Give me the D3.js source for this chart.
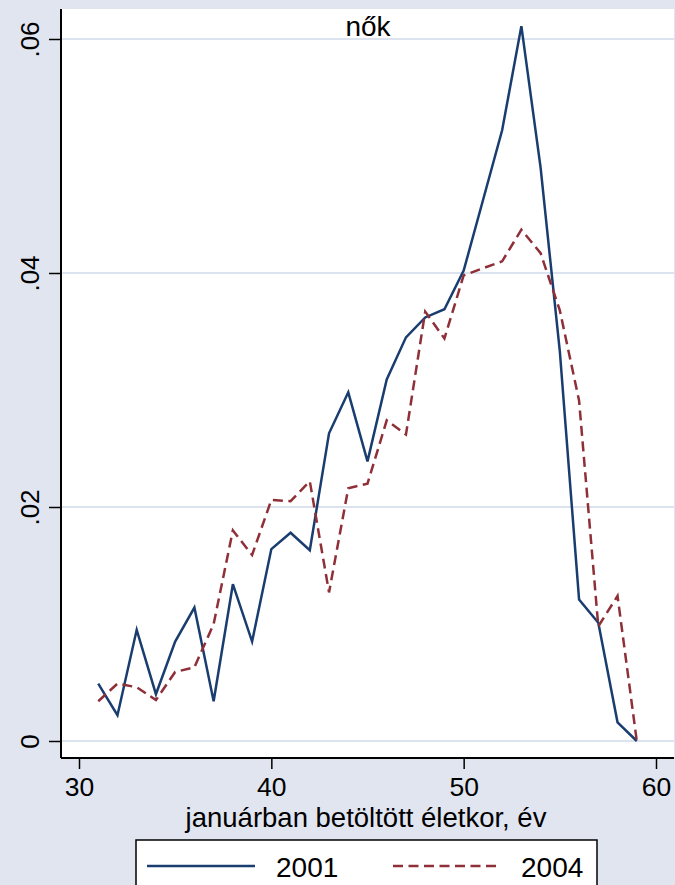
<!DOCTYPE html>
<html><head><meta charset="utf-8">
<script src="https://cdn.jsdelivr.net/npm/d3@7"></script>
<style>html,body{margin:0;padding:0;background:#e0e5f0;}svg{display:block;font-family:"Liberation Sans",Arial,sans-serif;}</style>
</head><body>
<svg id="c" width="675" height="885"></svg>
<script>
const ages = [31,32,33,34,35,36,37,38,39,40,41,42,43,44,45,46,47,48,49,50,51,52,53,54,55,56,57,58,59];
const s2001 = [0.0049,0.0022,0.0095,0.0040,0.0085,0.0114,0.0034,0.0134,0.0085,0.0164,0.0178,0.0163,0.0263,0.0298,0.0239,0.0309,0.0345,0.0362,0.0369,0.0402,0.0462,0.0522,0.0611,0.0490,0.0333,0.0121,0.0101,0.0016,0.0000];
const s2004 = [0.0034,0.0049,0.0046,0.0035,0.0059,0.0063,0.0100,0.0180,0.0159,0.0206,0.0205,0.0222,0.0127,0.0216,0.0220,0.0274,0.0262,0.0367,0.0344,0.0398,0.0404,0.0410,0.0437,0.0417,0.0368,0.0291,0.0098,0.0124,0.0000];
const xTicks = [30,40,50,60];
const yTicks = [0,0.02,0.04,0.06];
const yTickLabels = ["0",".02",".04",".06"];
const seriesNames = ["2001","2004"];
const titleText = "nők";
const xTitle = "januárban betöltött életkor, év";

const svg = d3.select("#c");
const L=61, T=9, R=674, B=758;
const x = d3.scaleLinear().domain([30,60]).range([79,656]);
const y = d3.scaleLinear().domain([0,0.06]).range([741,39]);
const col = ["#1a3d70","#8f2f38"];
const dash = "10,5.5";

svg.append("rect").attr("width",675).attr("height",885).attr("fill","#e0e5f0");
svg.append("rect").attr("x",L).attr("y",T).attr("width",R-L).attr("height",B-T).attr("fill","#fff");

// gridlines
svg.append("g").selectAll("line").data(yTicks).join("line")
  .attr("x1",L).attr("x2",R).attr("y1",d=>y(d)).attr("y2",d=>y(d))
  .attr("stroke","#dde3ee").attr("stroke-width",2);

// axes
const yAxis = d3.axisLeft(y).tickValues(yTicks).tickSize(12).tickFormat((d,i)=>yTickLabels[i]);
const gy = svg.append("g").attr("transform",`translate(${L},0)`).call(yAxis);
gy.select(".domain").attr("d",`M0,${T}V${B}`).attr("stroke","#000").attr("stroke-width",2);
gy.selectAll(".tick line").attr("stroke","#000").attr("stroke-width",1.5);
gy.selectAll(".tick text").attr("font-size",26).attr("fill","#000")
  .attr("x",0).attr("dy",0).attr("text-anchor","middle")
  .attr("transform","translate(-22,0) rotate(-90)").attr("y",0);

const xAxis = d3.axisBottom(x).tickValues(xTicks).tickSize(11).tickFormat(d3.format("d"));
const gx = svg.append("g").attr("transform",`translate(0,${B})`).call(xAxis);
gx.select(".domain").attr("d",`M${L},0H${R}`).attr("stroke","#000").attr("stroke-width",2);
gx.selectAll(".tick line").attr("stroke","#000").attr("stroke-width",1.5);
gx.selectAll(".tick text").attr("font-size",26.5).attr("fill","#000").attr("y",38).attr("dy",0);

// lines
const line = d3.line().x((d,i)=>x(ages[i])).y(d=>y(d));
svg.append("path").datum(s2001).attr("d",line).attr("fill","none")
  .attr("stroke",col[0]).attr("stroke-width",2.5).attr("stroke-linejoin","miter");
svg.append("path").datum(s2004).attr("d",line).attr("fill","none")
  .attr("stroke",col[1]).attr("stroke-width",2.5).attr("stroke-dasharray",dash);

// title
svg.append("text").attr("x",368).attr("y",36).attr("text-anchor","middle")
  .attr("font-size",28).text(titleText);
svg.append("text").attr("x",366).attr("y",826.5).attr("text-anchor","middle")
  .attr("font-size",27.5).text(xTitle);

// legend
const lg = svg.append("g");
lg.append("rect").attr("x",136).attr("y",840).attr("width",461).attr("height",60)
  .attr("fill","#fff").attr("stroke","#000").attr("stroke-width",1.5);
const lx = [[147,255,276],[393,501,521]];
seriesNames.forEach((n,i)=>{
  lg.append("line").attr("x1",lx[i][0]).attr("x2",lx[i][1]).attr("y1",866).attr("y2",866)
    .attr("stroke",col[i]).attr("stroke-width",2.5).attr("stroke-dasharray",i?dash:null);
  lg.append("text").attr("x",lx[i][2]).attr("y",877).attr("font-size",28).text(n);
});
</script>
</body></html>
